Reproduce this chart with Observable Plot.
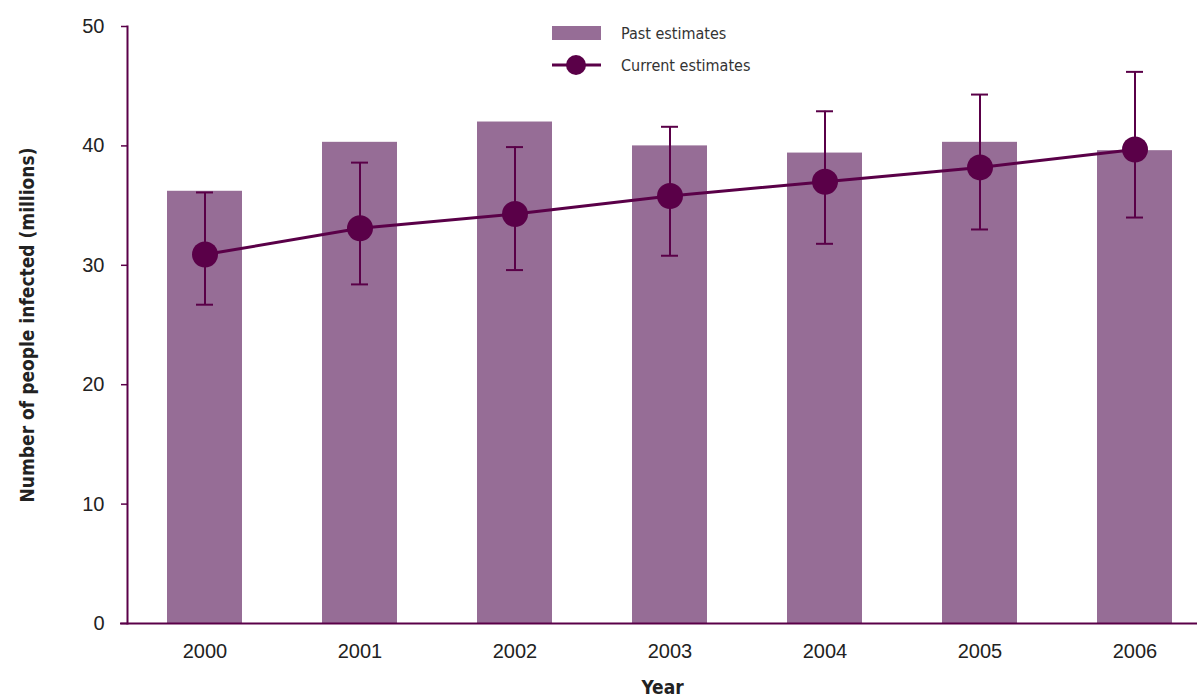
<!DOCTYPE html>
<html>
<head>
<meta charset="utf-8">
<script src="https://cdn.jsdelivr.net/npm/d3@7"></script>
<script src="https://cdn.jsdelivr.net/npm/@observablehq/plot@0.6"></script>
<style>
  html, body { margin: 0; padding: 0; background: #fff; overflow: hidden; }
  #wrap { position: relative; width: 1197px; height: 696px; }
  #legend { position: absolute; left: 552px; top: 17px; font-family: "DejaVu Sans Condensed", "DejaVu Sans", sans-serif; font-stretch: condensed; font-size: 16px; color: #333; }
  #legend .row { display: flex; align-items: center; height: 32px; }
  #legend .row span { margin-left: 20px; }
  .ttl text { font-stretch: condensed; }
</style>
</head>
<body>
<div id="wrap">
  <div id="chart"></div>
  <div id="legend">
    <div class="row"><svg width="49" height="20"><rect x="0" y="3" width="49" height="14" fill="#966d96"></rect></svg><span>Past estimates</span></div>
    <div class="row"><svg width="49" height="24"><line x1="0" y1="12" x2="49" y2="12" stroke="#5a0048" stroke-width="3"></line><circle cx="24" cy="12" r="10" fill="#5a0048"></circle></svg><span>Current estimates</span></div>
  </div>
</div>
<script>
const years = ["2000", "2001", "2002", "2003", "2004", "2005", "2006"];
const pastEstimates = [36.2, 40.3, 42.0, 40.0, 39.4, 40.3, 39.6];
const currentEstimates = [30.9, 33.1, 34.3, 35.8, 37.0, 38.2, 39.7];
const currentLow = [26.7, 28.4, 29.6, 30.8, 31.8, 33.0, 34.0];
const currentHigh = [36.1, 38.6, 39.9, 41.6, 42.9, 44.3, 46.2];
const yTicks = [0, 10, 20, 30, 40, 50];
const yTitle = "Number of people infected (millions)";
const xTitle = "Year";

const data = years.map((y, i) => ({
  year: y, past: pastEstimates[i], current: currentEstimates[i], low: currentLow[i], high: currentHigh[i]
}));

const dark = "#5a0048";
const barColor = "#966d96";
const tickFont = "'Liberation Sans', Arial, sans-serif";
const titleFont = "'DejaVu Sans Condensed', 'DejaVu Sans', sans-serif";

const chart = Plot.plot({
  width: 1197,
  height: 696,
  marginTop: 26,
  marginBottom: 73,
  marginLeft: 127,
  marginRight: 0,
  style: { background: "#fff", overflow: "visible" },
  x: { type: "band", domain: years, range: [127, 1212], padding: 0 },
  y: { domain: [0, 50] },
  marks: [
    Plot.barY(data, { x: "year", y: "past", fill: barColor, insetLeft: 40, insetRight: 40 }),
    Plot.ruleX(data, { x: "year", y1: "low", y2: "high", stroke: dark, strokeWidth: 2 }),
    Plot.tickY(data, { x: "year", y: "low", stroke: dark, strokeWidth: 2, insetLeft: 69, insetRight: 69 }),
    Plot.tickY(data, { x: "year", y: "high", stroke: dark, strokeWidth: 2, insetLeft: 69, insetRight: 69 }),
    Plot.line(data, { x: "year", y: "current", stroke: dark, strokeWidth: 3 }),
    Plot.dot(data, { x: "year", y: "current", r: 13, fill: dark }),
    Plot.axisY({ ticks: yTicks, tickSize: 6, tickPadding: 17, stroke: dark, strokeWidth: 1.5, fill: "#222", fontSize: 20, fontFamily: tickFont, label: null }),
    Plot.axisX({ tickSize: 0, tickPadding: 20, fill: "#222", fontSize: 20, fontFamily: tickFont, label: null }),
    Plot.ruleY([0], { stroke: dark, strokeWidth: 2, insetLeft: -7 }),
    Plot.frame({ anchor: "left", stroke: dark, strokeWidth: 2 }),
    Plot.text([yTitle], { frameAnchor: "left", textAnchor: "middle", rotate: -90, dx: -100, fontSize: 19, fontWeight: "bold", fontFamily: titleFont, fill: "#222", className: "ttl" }),
    Plot.text([xTitle], { frameAnchor: "bottom", dy: 70, fontSize: 19, fontWeight: "bold", fontFamily: titleFont, fill: "#222", className: "ttl" })
  ]
});
document.getElementById("chart").appendChild(chart);
</script>
</body>
</html>
